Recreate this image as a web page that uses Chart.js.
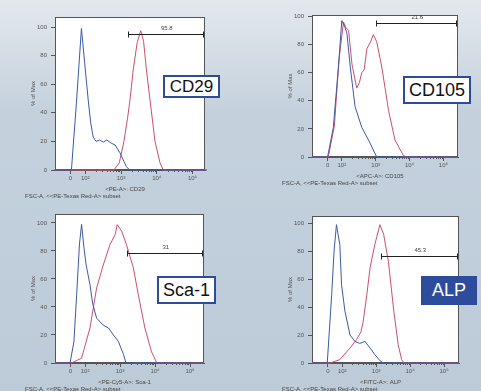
<!DOCTYPE html>
<html>
<head>
<meta charset="utf-8">
<script src="https://cdn.jsdelivr.net/npm/chart.js@4.4.1/dist/chart.umd.min.js"></script>
<style>
  body { margin: 0; }
  #page {
    position: relative; width: 481px; height: 391px; overflow: hidden;
    background: linear-gradient(180deg, #e3e8ed 0px, #d7dfe6 45px, #c4d1dd 110px, #bdcbd9 391px);
  }
  canvas { position: absolute; }
  .tag {
    position: absolute; box-sizing: border-box; border: 2px solid #2c4b98; background: #fff; color: #111;
    font: 18px 'Liberation Sans', Arial, sans-serif;
    display: flex; align-items: center; justify-content: center;
  }
  .tag.filled { background: #2d4c9b; color: #fff; }
</style>
</head>
<body>
<div id="page">
  <canvas id="c1" width="240" height="200" style="left:0;top:0"></canvas>
  <canvas id="c2" width="241" height="195" style="left:240px;top:0"></canvas>
  <canvas id="c3" width="240" height="196" style="left:0;top:195px"></canvas>
  <canvas id="c4" width="241" height="196" style="left:240px;top:195px"></canvas>
  <div class="tag" style="left:163px;top:75px;width:57px;height:23px;font-size:17px">CD29</div>
  <div class="tag" style="left:403px;top:76px;width:68px;height:28px">CD105</div>
  <div class="tag" style="left:157px;top:276px;width:59px;height:28px">Sca-1</div>
  <div class="tag filled" style="left:421px;top:276px;width:56px;height:29px">ALP</div>
</div>
<script>
// x values are in display decades: 2 = 10^2, 3 = 10^3 ... ; y is % of Max
const xTickValues = [1.58, 2, 3, 4, 5];
const xTickLabels = ['0', '10²', '10³', '10⁴', '10⁵'];
const yTickValues = [0, 20, 40, 60, 80, 100];

const markers = ['CD29', 'CD105', 'Sca-1', 'ALP'];
const channels = ['<PE-A>: CD29', '<APC-A>: CD105', '<PE-Cy5-A>: Sca-1', '<FITC-A>: ALP'];
const gateStarts = [3.19, 3.01, 3.2, 3.13];
const gateLevels = [95, 95, 78.6, 76.4];
const gateLabels = ['95.8', '21.6', '31', '45.3'];

// CD29
const cd29IsoX = [1.13, 1.61, 1.75, 1.89, 1.98, 2.08, 2.15, 2.22, 2.30, 2.40, 2.50, 2.60, 2.71, 2.83, 2.97, 3.08, 3.15, 3.24, 5.4];
const cd29IsoY = [0, 0, 47, 99, 75, 49, 33, 23, 20, 21, 19.5, 21, 19, 17.5, 12, 6, 2.3, 0, 0];
const cd29StainX = [1.13, 2.80, 2.95, 3.08, 3.18, 3.25, 3.34, 3.45, 3.55, 3.63, 3.71, 3.81, 3.95, 4.09, 4.18, 5.4];
const cd29StainY = [0, 0, 5, 20, 36, 49, 70, 89, 97.5, 90, 70, 49, 20, 5, 0, 0];

// CD105
const cd105IsoX = [1.12, 1.58, 1.75, 1.90, 2.00, 2.08, 2.15, 2.25, 2.39, 2.59, 2.79, 2.93, 3.03, 5.43];
const cd105IsoY = [0, 0, 21, 64, 97, 93, 88, 64, 36, 21, 12, 5, 0, 0];
const cd105StainX = [1.12, 1.60, 1.78, 1.92, 2.05, 2.12, 2.20, 2.30, 2.44, 2.52, 2.59, 2.66, 2.74, 2.85, 2.93, 3.03, 3.18, 3.38, 3.57, 3.82, 3.92, 5.43];
const cd105StainY = [0, 0, 22, 70, 96, 92, 90, 66, 49, 53, 60, 62, 77, 82, 87, 82, 64, 33, 12, 1, 0, 0];

// Sca-1
const sca1IsoX = [1.14, 1.57, 1.68, 1.76, 1.84, 1.90, 1.97, 2.03, 2.14, 2.22, 2.33, 2.52, 2.67, 2.81, 2.95, 3.10, 3.17, 5.4];
const sca1IsoY = [0, 0, 15, 49, 85, 99, 82, 70, 56, 42, 32, 27, 25, 20, 15.5, 6, 0, 0];
const sca1StainX = [1.14, 1.62, 1.90, 2.14, 2.33, 2.52, 2.71, 2.86, 2.92, 3.05, 3.19, 3.38, 3.52, 3.71, 3.90, 4.05, 5.4];
const sca1StainY = [0, 0, 3.5, 25, 53.6, 70, 84.5, 91.7, 98.8, 94, 84, 68, 49, 25, 8, 0, 0];

// ALP
const alpIsoX = [1.11, 1.56, 1.69, 1.76, 1.83, 1.93, 1.98, 2.08, 2.23, 2.37, 2.52, 2.67, 2.82, 2.96, 3.11, 3.21, 5.44];
const alpIsoY = [0, 0, 49, 80, 98.8, 84.5, 56, 37, 20, 15.5, 14, 15.5, 10.7, 6, 1.7, 0, 0];
const alpStainX = [1.11, 1.64, 1.93, 2.23, 2.42, 2.55, 2.62, 2.72, 2.82, 2.96, 3.11, 3.22, 3.36, 3.52, 3.65, 3.75, 3.82, 5.44];
const alpStainY = [0, 0, 2.4, 10.7, 16.7, 22, 30, 48, 68, 84.5, 98.8, 92, 72.6, 37, 13, 2.4, 0, 0];

const isoColor = '#3a5aa8';
const stainColor = '#c9506f';
const font = "'Liberation Sans', Arial, sans-serif";

const panelDecor = {
  id: 'panelDecor',
  beforeDraw(chart) {
    const { ctx, chartArea: { left, top, right, bottom } } = chart;
    ctx.save();
    ctx.fillStyle = '#fff';
    ctx.fillRect(left, top, right - left, bottom - top);
    ctx.restore();
  },
  beforeDatasetsDraw(chart) {
    const { ctx, chartArea: { left, top, right, bottom }, scales: { x } } = chart;
    ctx.save();
    ctx.strokeStyle = '#555';
    ctx.lineWidth = 1;
    ctx.strokeRect(left + 0.5, top + 0.5, right - left - 1, bottom - top - 1);
    // minor log ticks
    ctx.beginPath();
    for (let d = 2; d < 5; d++) {
      for (let k = 2; k < 10; k++) {
        const px = Math.round(x.getPixelForValue(d + Math.log10(k))) + 0.5;
        ctx.moveTo(px, bottom);
        ctx.lineTo(px, bottom + 2);
      }
    }
    ctx.stroke();
    ctx.restore();
  },
  afterDraw(chart, args, opts) {
    const { ctx, chartArea: { left, right, bottom }, scales: { x, y } } = chart;
    ctx.save();
    const gx = Math.round(x.getPixelForValue(opts.gateFrom)) + 0.5;
    const gy = Math.round(y.getPixelForValue(opts.gateAt)) + 0.5;
    ctx.strokeStyle = '#222';
    ctx.lineWidth = 1;
    ctx.beginPath();
    ctx.moveTo(gx, gy);
    ctx.lineTo(right - 1, gy);
    ctx.moveTo(gx, gy - 3);
    ctx.lineTo(gx, gy + 3);
    ctx.moveTo(right - 1.5, gy - 3);
    ctx.lineTo(right - 1.5, gy + 3);
    ctx.stroke();

    ctx.font = '6px ' + font;
    ctx.fillStyle = '#444';
    ctx.textAlign = 'center';
    ctx.textBaseline = 'middle';
    ctx.fillText(opts.gateLabel, (gx + right) / 2, gy - 6);
    ctx.fillText(opts.xTitle, (left + right) / 2 - 5, bottom + 19);
    ctx.textAlign = 'left';
    ctx.fillText('FSC-A, <<PE-Texas Red-A> subset', left - 30, bottom + 26);
    ctx.restore();
  },
};

function toPoints(xs, ys) {
  return xs.map((v, i) => ({ x: v, y: ys[i] }));
}

function makePanel(id, idx, iso, stain, layout) {
  const tickFont = { family: font, size: 6 };
  return new Chart(document.getElementById(id), {
    type: 'line',
    data: {
      datasets: [
        { data: toPoints(iso[0], iso[1]), borderColor: isoColor, borderWidth: 1, pointRadius: 0, tension: 0, clip: false },
        { data: toPoints(stain[0], stain[1]), borderColor: stainColor, borderWidth: 1, pointRadius: 0, tension: 0, clip: false },
      ],
    },
    options: {
      responsive: false,
      animation: false,
      devicePixelRatio: 1,
      layout: { padding: { left: layout.left - 25, right: layout.right, top: layout.top, bottom: 0 } },
      plugins: {
        legend: { display: false },
        tooltip: { enabled: false },
        panelDecor: {
          gateFrom: gateStarts[idx],
          gateAt: gateLevels[idx],
          gateLabel: gateLabels[idx],
          xTitle: channels[idx],
        },
      },
      scales: {
        x: {
          type: 'linear',
          min: layout.xMin,
          max: layout.xMax,
          afterBuildTicks: (axis) => { axis.ticks = xTickValues.map((v) => ({ value: v })); },
          afterFit: (axis) => { axis.height = layout.xHeight; },
          ticks: {
            autoSkip: false, maxRotation: 0, padding: 1, font: tickFont, color: '#555',
            callback: (v) => xTickLabels[xTickValues.indexOf(v)],
          },
          grid: { drawOnChartArea: false, tickLength: 4, color: '#555' },
          border: { color: '#555' },
        },
        y: {
          min: 0,
          max: layout.yMax,
          afterBuildTicks: (axis) => { axis.ticks = yTickValues.map((v) => ({ value: v })); },
          afterFit: (axis) => { axis.width = 25; },
          ticks: { padding: 4, font: tickFont, color: '#555' },
          grid: { drawOnChartArea: false, tickLength: 4, color: '#555' },
          border: { color: '#555' },
          title: { display: true, text: '% of Max', font: tickFont, color: '#555', padding: 0 },
        },
      },
    },
    plugins: [panelDecor],
  });
}

makePanel('c1', 0, [cd29IsoX, cd29IsoY], [cd29StainX, cd29StainY],
  { left: 55, right: 35, top: 17, xHeight: 30, xMin: 1.15, xMax: 5.35, yMax: 107 });
makePanel('c2', 1, [cd105IsoX, cd105IsoY], [cd105StainX, cd105StainY],
  { left: 72, right: 23, top: 15, xHeight: 38, xMin: 1.12, xMax: 5.43, yMax: 101 });
makePanel('c3', 2, [sca1IsoX, sca1IsoY], [sca1StainX, sca1StainY],
  { left: 55, right: 36, top: 19, xHeight: 28, xMin: 1.14, xMax: 5.4, yMax: 106.4 });
makePanel('c4', 3, [alpIsoX, alpIsoY], [alpStainX, alpStainY],
  { left: 72, right: 22, top: 21, xHeight: 28, xMin: 1.11, xMax: 5.44, yMax: 105 });
</script>
</body>
</html>
